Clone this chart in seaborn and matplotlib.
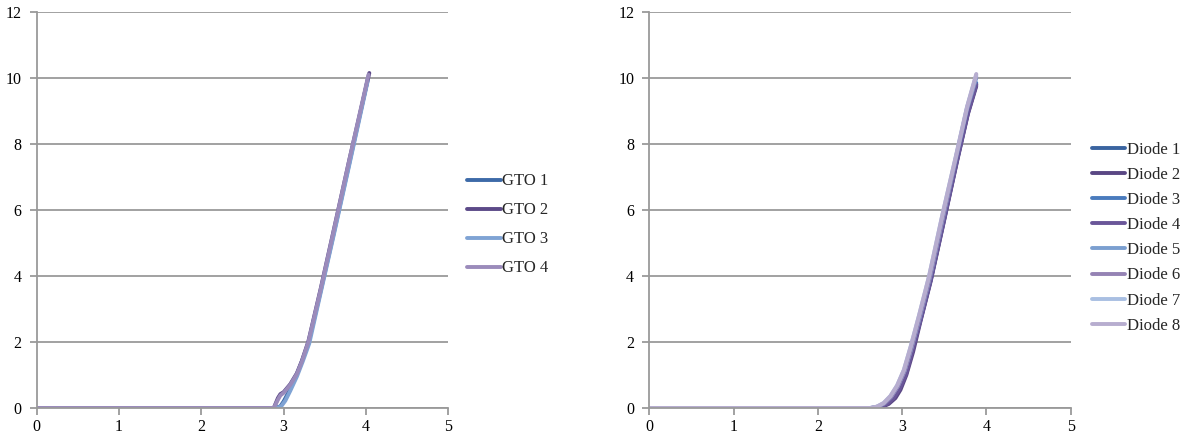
import matplotlib
matplotlib.use("Agg")
import matplotlib.pyplot as plt
import seaborn as sns
import pandas as pd

sns.set_theme(style="white")
plt.rcParams["font.family"] = ["Liberation Serif", "DejaVu Serif"]

# Forward I-V characteristics of the GTO thyristors (V, A)
gto1_v = [0, 1, 2, 2.90, 2.96, 3.00, 3.06, 3.15, 3.22, 3.30, 3.45, 3.60, 3.80, 4.02]
gto1_i = [0, 0, 0, 0.00, 0.05, 0.20, 0.48, 0.95, 1.40, 1.95, 3.55, 5.20, 7.45, 9.95]
gto2_v = [0, 1, 2, 2.88, 2.93, 2.96, 3.00, 3.08, 3.16, 3.22, 3.30, 3.45, 3.60, 3.80, 4.04]
gto2_i = [0, 0, 0, 0.00, 0.30, 0.42, 0.48, 0.72, 1.05, 1.42, 2.02, 3.62, 5.30, 7.55, 10.15]
gto3_v = [0, 1, 2, 2.92, 2.97, 3.02, 3.08, 3.16, 3.23, 3.31, 3.45, 3.60, 3.80, 4.02]
gto3_i = [0, 0, 0, 0.00, 0.05, 0.22, 0.52, 0.95, 1.40, 1.95, 3.50, 5.15, 7.40, 9.90]
gto4_v = [0, 1, 2, 2.88, 2.93, 2.96, 3.00, 3.08, 3.16, 3.22, 3.30, 3.45, 3.60, 3.80, 4.03]
gto4_i = [0, 0, 0, 0.00, 0.25, 0.38, 0.46, 0.70, 1.03, 1.40, 2.00, 3.60, 5.28, 7.55, 10.10]

# Forward I-V characteristics of the diodes (V, A)
d1_v = [0, 1, 2, 2.64, 2.72, 2.80, 2.88, 2.96, 3.04, 3.12, 3.22, 3.34, 3.50, 3.65, 3.78, 3.88]
d1_i = [0, 0, 0, 0.00, 0.03, 0.12, 0.30, 0.62, 1.08, 1.75, 2.70, 3.90, 5.75, 7.50, 8.95, 9.80]
d2_v = [0, 1, 2, 2.66, 2.76, 2.84, 2.92, 2.98, 3.05, 3.13, 3.22, 3.34, 3.50, 3.65, 3.78, 3.88]
d2_i = [0, 0, 0, 0.00, 0.03, 0.12, 0.30, 0.55, 1.00, 1.70, 2.65, 3.85, 5.70, 7.45, 8.90, 9.75]
d3_v = [0, 1, 2, 2.64, 2.72, 2.80, 2.88, 2.96, 3.04, 3.12, 3.22, 3.34, 3.50, 3.65, 3.78, 3.88]
d3_i = [0, 0, 0, 0.00, 0.03, 0.13, 0.32, 0.64, 1.10, 1.78, 2.72, 3.92, 5.78, 7.52, 8.98, 9.85]
d4_v = [0, 1, 2, 2.65, 2.74, 2.82, 2.90, 2.97, 3.05, 3.12, 3.22, 3.34, 3.50, 3.65, 3.78, 3.88]
d4_i = [0, 0, 0, 0.00, 0.03, 0.12, 0.30, 0.58, 1.05, 1.72, 2.68, 3.88, 5.72, 7.48, 8.92, 9.80]
d5_v = [0, 1, 2, 2.63, 2.71, 2.79, 2.87, 2.95, 3.03, 3.11, 3.21, 3.33, 3.49, 3.64, 3.77, 3.88]
d5_i = [0, 0, 0, 0.00, 0.04, 0.14, 0.34, 0.66, 1.12, 1.80, 2.75, 3.95, 5.82, 7.58, 9.05, 10.00]
d6_v = [0, 1, 2, 2.63, 2.71, 2.79, 2.87, 2.95, 3.03, 3.11, 3.21, 3.33, 3.49, 3.64, 3.77, 3.88]
d6_i = [0, 0, 0, 0.00, 0.04, 0.14, 0.34, 0.66, 1.13, 1.82, 2.78, 3.98, 5.85, 7.60, 9.08, 10.05]
d7_v = [0, 1, 2, 2.62, 2.70, 2.78, 2.86, 2.94, 3.02, 3.10, 3.20, 3.32, 3.48, 3.64, 3.77, 3.88]
d7_i = [0, 0, 0, 0.00, 0.04, 0.15, 0.36, 0.68, 1.15, 1.85, 2.80, 4.00, 5.88, 7.65, 9.12, 10.10]
d8_v = [0, 1, 2, 2.62, 2.70, 2.78, 2.86, 2.94, 3.02, 3.10, 3.20, 3.32, 3.48, 3.64, 3.77, 3.88]
d8_i = [0, 0, 0, 0.00, 0.04, 0.15, 0.36, 0.68, 1.15, 1.85, 2.80, 4.00, 5.88, 7.65, 9.12, 10.12]

gto_names = ["GTO 1", "GTO 2", "GTO 3", "GTO 4"]
gto_series = [(gto1_v, gto1_i), (gto2_v, gto2_i), (gto3_v, gto3_i), (gto4_v, gto4_i)]
gto_colors = ["#3d6aa8", "#5c4a88", "#7fa3d4", "#9b8bbb"]

diode_names = ["Diode 1", "Diode 2", "Diode 3", "Diode 4",
               "Diode 5", "Diode 6", "Diode 7", "Diode 8"]
diode_series = [(d1_v, d1_i), (d2_v, d2_i), (d3_v, d3_i), (d4_v, d4_i),
                (d5_v, d5_i), (d6_v, d6_i), (d7_v, d7_i), (d8_v, d8_i)]
diode_colors = ["#3a64a0", "#5a4784", "#4a7bbd", "#6a5699",
                "#7b9fd0", "#9583b4", "#a9bfe2", "#b7adcf"]

x_ticks = [0, 1, 2, 3, 4, 5]
y_ticks = [0, 2, 4, 6, 8, 10, 12]


def long_frame(names, series):
    rows = []
    for name, (v, i) in zip(names, series):
        for xv, yv in zip(v, i):
            rows.append({"V": xv, "I": yv, "series": name})
    return pd.DataFrame(rows)


fig = plt.figure(figsize=(11.83, 4.42), dpi=100)
ax1 = fig.add_axes([0.031, 0.077, 0.348, 0.896])
ax2 = fig.add_axes([0.549, 0.077, 0.356, 0.896])

grey = "#9a9a9a"
for ax, names, series, colors in [(ax1, gto_names, gto_series, gto_colors),
                                  (ax2, diode_names, diode_series, diode_colors)]:
    df = long_frame(names, series)
    sns.lineplot(data=df, x="V", y="I", hue="series", hue_order=names,
                 palette=colors, estimator=None, sort=False, linewidth=2.8,
                 ax=ax, legend=True)
    ax.set_xlim(0, 5)
    ax.set_ylim(0, 12)
    ax.set_xticks(x_ticks)
    ax.set_yticks(y_ticks)
    ax.set_xlabel("")
    ax.set_ylabel("")
    ax.grid(axis="y", color=grey, linewidth=1.3)
    ax.set_axisbelow(True)
    for s in ["top", "right"]:
        ax.spines[s].set_visible(False)
    for s in ["left", "bottom"]:
        ax.spines[s].set_color(grey)
        ax.spines[s].set_linewidth(1.3)
    ax.tick_params(axis="both", direction="out", length=5, width=1.3,
                   color=grey, labelsize=11.5, labelcolor="black", pad=3)
    ax.tick_params(axis="y", left=True, pad=6)
    ax.tick_params(axis="x", bottom=True)

leg1 = ax1.legend(loc="center left", bbox_to_anchor=(1.03, 0.462), frameon=False,
                  fontsize=12, handlelength=2.0, handletextpad=0.1,
                  labelspacing=0.78, borderaxespad=0)
leg2 = ax2.legend(loc="center left", bbox_to_anchor=(1.035, 0.43), frameon=False,
                  fontsize=12, handlelength=2.0, handletextpad=0.1,
                  labelspacing=0.55, borderaxespad=0)
for leg in (leg1, leg2):
    for line in leg.get_lines():
        line.set_linewidth(2.8)

fig.savefig("out.png", dpi=100)
